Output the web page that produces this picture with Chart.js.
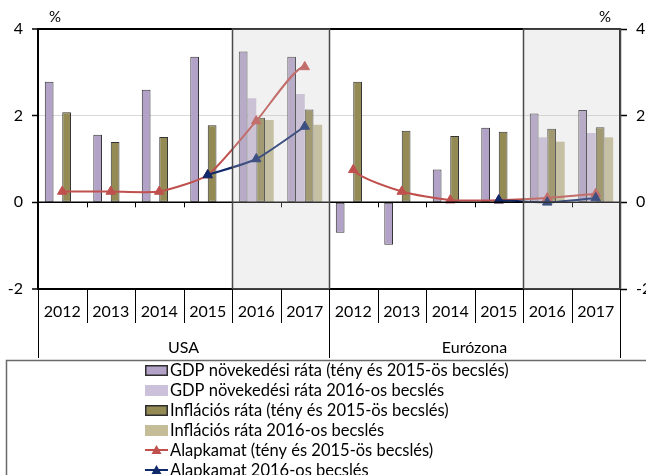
<!DOCTYPE html>
<html>
<head>
<meta charset="utf-8">
<script src="https://cdn.jsdelivr.net/npm/chart.js@4.4.1/dist/chart.umd.min.js"></script>
<style>
  html, body { margin: 0; padding: 0; background: #fff; }
  #wrap { position: relative; width: 646px; height: 475px; }
</style>
</head>
<body>
<div id="wrap"><canvas id="chart"></canvas></div>
<script>
// data (12 categories: USA 2012-2017, then Eurozone 2012-2017)
const years = ['2012', '2013', '2014', '2015', '2016', '2017'];
const regions = ['USA', 'Eurózona'];
const gdp     = [2.78, 1.56, 2.60, 3.36, 3.48, 3.36,  -0.70, -0.98, 0.76, 1.72, 2.05, 2.13];
const gdpEst  = [null, null, null, null, 2.40, 2.50,   null, null, null, null, 1.50, 1.60];
const infl    = [2.08, 1.39, 1.51, 1.78, 1.95, 2.14,   2.78, 1.65, 1.53, 1.63, 1.70, 1.73];
const inflEst = [null, null, null, null, 1.90, 1.79,   null, null, null, null, 1.40, 1.50];
const rate    = [0.25, 0.25, 0.25, 0.63, 1.875, 3.125, 0.75, 0.25, 0.05, 0.05, 0.10, 0.20];
const rateEst = [null, null, null, 0.63, 1.00, 1.75,   null, null, null, 0.05, 0.00, 0.10];
const seriesNames = [
  'GDP növekedési ráta (tény és 2015-ös becslés)',
  'GDP növekedési ráta 2016-os becslés',
  'Inflációs ráta (tény és 2015-ös becslés)',
  'Inflációs ráta 2016-os becslés',
  'Alapkamat (tény és 2015-ös becslés)',
  'Alapkamat 2016-os becslés'
];
const shadedYears = ['2016', '2017'];

const labels = regions.flatMap(() => years);
const FONT = 'Lato';

// helpers
function boundary(xs, k) {
  // pixel of the border left of category k
  if (k <= 0) return xs.left;
  if (k >= labels.length) return xs.right;
  return (xs.getPixelForValue(k - 1) + xs.getPixelForValue(k)) / 2;
}

const decorPlugin = {
  id: 'decor',
  afterDatasetsDraw(chart) {
    const ctx = chart.ctx, xs = chart.scales.x, ys = chart.scales.y, a = chart.chartArea;
    const y0 = ys.getPixelForValue(0);
    ctx.save();
    // horizontal axis at zero with small ticks
    ctx.strokeStyle = '#000';
    ctx.lineWidth = 1.5;
    ctx.beginPath();
    ctx.moveTo(a.left, y0); ctx.lineTo(a.right, y0);
    ctx.stroke();
    ctx.lineWidth = 1;
    ctx.beginPath();
    for (let k = 1; k < labels.length; k++) {
      const x = Math.round(boundary(xs, k)) + 0.5;
      ctx.moveTo(x, y0); ctx.lineTo(x, y0 + 5);
    }
    ctx.stroke();
    // forecast boxes
    regions.forEach((r, ri) => {
      const first = ri * years.length + years.indexOf(shadedYears[0]);
      const last = ri * years.length + years.indexOf(shadedYears[shadedYears.length - 1]);
      const x1 = boundary(xs, first), x2 = boundary(xs, last + 1);
      ctx.fillStyle = 'rgba(200,200,200,0.25)';
      ctx.fillRect(x1, a.top, x2 - x1, a.bottom - a.top);
      ctx.strokeStyle = '#4a4a4a';
      ctx.lineWidth = 1.5;
      ctx.strokeRect(Math.round(x1) + 0.5, a.top, Math.round(x2 - x1), a.bottom - a.top);
    });
    ctx.restore();
  },
  afterDraw(chart) {
    const ctx = chart.ctx, xs = chart.scales.x, a = chart.chartArea;
    ctx.save();
    // category label boxes
    ctx.strokeStyle = '#000';
    ctx.lineWidth = 1;
    ctx.beginPath();
    for (let k = 0; k <= labels.length; k++) {
      const x = Math.round(boundary(xs, k)) + 0.5;
      const long = k % years.length === 0;
      ctx.moveTo(x, a.bottom); ctx.lineTo(x, long ? a.bottom + 69 : a.bottom + 34);
    }
    ctx.stroke();
    ctx.fillStyle = '#000';
    ctx.font = '16px ' + FONT;
    ctx.textAlign = 'center';
    ctx.textBaseline = 'middle';
    regions.forEach((r, ri) => {
      const xa = boundary(xs, ri * years.length), xb = boundary(xs, (ri + 1) * years.length);
      ctx.fillText(r, (xa + xb) / 2, a.bottom + 59);
    });
    // unit labels
    ctx.font = '15px ' + FONT;
    ctx.fillText('%', 55, 17);
    ctx.fillText('%', 605, 17);
    // legend
    ctx.strokeStyle = '#6a6a6a';
    ctx.lineWidth = 1.5;
    ctx.strokeRect(6.5, 360.5, 700, 200);
    ctx.font = '16.5px ' + FONT;
    ctx.textAlign = 'left';
    chart.data.datasets.forEach((ds, i) => {
      const cy = 370 + i * 20;
      if (ds.type === 'line') {
        ctx.strokeStyle = ds.borderColor;
        ctx.lineWidth = 2;
        ctx.beginPath(); ctx.moveTo(145, cy); ctx.lineTo(168, cy); ctx.stroke();
        ctx.fillStyle = ds.borderColor;
        ctx.beginPath();
        ctx.moveTo(156.5, cy - 5); ctx.lineTo(161.5, cy + 4); ctx.lineTo(151.5, cy + 4);
        ctx.closePath(); ctx.fill();
      } else {
        ctx.fillStyle = ds.backgroundColor;
        ctx.fillRect(145, cy - 5, 23, 11);
        if (ds.borderWidth) {
          ctx.strokeStyle = '#2e2e2e';
          ctx.lineWidth = 1.5;
          ctx.strokeRect(145.75, cy - 4.25, 21.5, 9.5);
        }
      }
      ctx.fillStyle = '#000';
      ctx.fillText(ds.label, 170, cy + 1);
    });
    ctx.restore();
  }
};

const tickFont = { family: FONT, size: 16 };

new Chart(document.getElementById('chart'), {
  data: {
    labels: labels,
    datasets: [
      { type: 'bar', label: seriesNames[0], data: gdp, backgroundColor: '#b3a2c7',
        borderColor: '#333', borderWidth: 1, borderSkipped: false, order: 2 },
      { type: 'bar', label: seriesNames[1], data: gdpEst, backgroundColor: '#ccc1da',
        borderWidth: 0, order: 2 },
      { type: 'bar', label: seriesNames[2], data: infl, backgroundColor: '#948a54',
        borderColor: '#333', borderWidth: 1, borderSkipped: false, order: 2 },
      { type: 'bar', label: seriesNames[3], data: inflEst, backgroundColor: '#c4bd97',
        borderWidth: 0, order: 2 },
      { type: 'line', label: seriesNames[4], data: rate, borderColor: '#c0504d',
        backgroundColor: '#c0504d', borderWidth: 2, tension: 0.2, pointStyle: 'triangle',
        pointRadius: 5.5, pointBorderWidth: 1, order: 1,
        segment: { borderColor: c => c.p0DataIndex === years.length - 1 ? 'rgba(0,0,0,0)' : undefined } },
      { type: 'line', label: seriesNames[5], data: rateEst, borderColor: '#10296a',
        backgroundColor: '#10296a', borderWidth: 2, tension: 0.2, pointStyle: 'triangle',
        pointRadius: 5.5, pointBorderWidth: 1, order: 0, spanGaps: false }
    ]
  },
  options: {
    responsive: true,
    maintainAspectRatio: false,
    animation: false,
    layout: { padding: { top: 29, left: 0, right: 0, bottom: 0 } },
    datasets: { bar: { categoryPercentage: 0.72, barPercentage: 1 } },
    plugins: { legend: { display: false }, tooltip: { enabled: false } },
    scales: {
      x: {
        grid: { display: false, drawTicks: false },
        border: { display: false },
        ticks: { color: '#000', font: tickFont, padding: 13, autoSkip: false, maxRotation: 0 },
        afterFit: s => { s.height = 186; }
      },
      y: {
        min: -2, max: 4,
        afterBuildTicks: s => { s.ticks = [-2, 0, 2, 4].map(v => ({ value: v })); },
        ticks: { color: '#000', font: tickFont, padding: 9 },
        grid: {
          color: c => c.tick.value === 2 ? '#d9d9d9' : '#000',
          lineWidth: c => (c.tick.value === 4 || c.tick.value === -2) ? 2 : 1,
          tickColor: '#000', tickLength: 6, tickWidth: 1.5
        },
        border: { color: '#000', width: 2 },
        afterFit: s => { s.width = 38; }
      },
      y1: {
        position: 'right', min: -2, max: 4,
        afterBuildTicks: s => { s.ticks = [-2, 0, 2, 4].map(v => ({ value: v })); },
        ticks: { color: '#000', font: tickFont, padding: 9 },
        grid: { drawOnChartArea: false, tickColor: '#000', tickLength: 7, tickWidth: 1.5 },
        border: { color: '#000', width: 2 },
        afterFit: s => { s.width = 26; }
      }
    }
  },
  plugins: [decorPlugin]
});
</script>
</body>
</html>
